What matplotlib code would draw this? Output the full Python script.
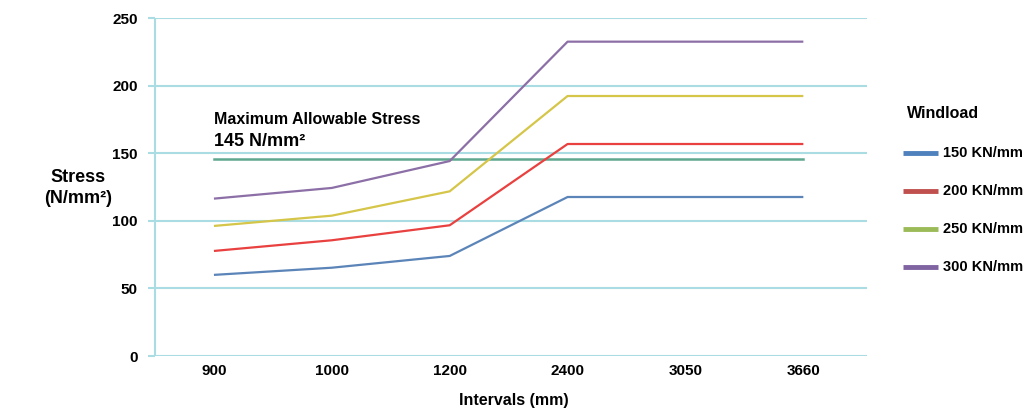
import matplotlib
matplotlib.use("Agg")
import matplotlib.pyplot as plt
from matplotlib.lines import Line2D

plt.rcParams['font.family'] = ['Liberation Sans', 'DejaVu Sans']

categories = ["900", "1000", "1200", "2400", "3050", "3660"]
s150 = [60, 65.3, 74, 117.6, 117.6, 117.6]
s200 = [77.7, 85.6, 96.7, 156.8, 156.8, 156.8]
s250 = [96.2, 103.8, 121.8, 192.3, 192.3, 192.3]
s300 = [116.4, 124.3, 144.2, 232.5, 232.5, 232.5]
max_allowable = 145.5
series_labels = ["150 KN/mm", "200 KN/mm", "250 KN/mm", "300 KN/mm"]
yticks = [0, 50, 100, 150, 200, 250]

line_colors = ["#5B84B8", "#E8413F", "#D5C548", "#8C6FA6"]
legend_colors = ["#4F81BD", "#C0504D", "#9BBB59", "#8064A2"]
grid_color = "#A9DDE3"

W, H = 1024, 412
fig = plt.figure(figsize=(W/100, H/100), dpi=100)
ax = fig.add_axes([155/W, 1-356/H, (867-155)/W, (356-18)/H])

x = list(range(len(categories)))
for ys, c in zip([s150, s200, s250, s300], line_colors):
    ax.plot(x, ys, color=c, lw=1.6, solid_capstyle='butt', zorder=3)
ax.plot([x[0], x[-1]], [max_allowable, max_allowable], color="#5FA88F", lw=1.8, zorder=2)

ax.set_xlim(-0.5, 5.54)
ax.set_ylim(0, 250)
ax.set_yticks(yticks)
ax.set_yticklabels([str(v) for v in yticks], fontsize=11, fontweight='bold')
ax.set_xticks(x)
ax.set_xticklabels(categories, fontsize=11, fontweight='bold')
ax.tick_params(axis='x', length=0, pad=6)
ax.tick_params(axis='y', length=5, width=1.5, color=grid_color, pad=7.5)
ax.yaxis.grid(True, color=grid_color, lw=1.5)
ax.set_axisbelow(True)
for s in ['top', 'right', 'bottom']:
    ax.spines[s].set_visible(False)
ax.spines['left'].set_color(grid_color)
ax.spines['left'].set_linewidth(1.5)
ax.spines['left'].set_capstyle('butt')

ax.text(0, 171.6, "Maximum Allowable Stress", fontsize=11.5, fontweight='bold', ha='left', va='baseline')
ax.text(0, 155.3, "145 N/mm²", fontsize=13, fontweight='bold', ha='left', va='baseline')

fig.text(78/W, 1-188/H, "Stress\n(N/mm²)", fontsize=13, fontweight='bold', ha='center', va='center', linespacing=1.25)
fig.text(514/W, 1-401/H, "Intervals (mm)", fontsize=11.5, fontweight='bold', ha='center', va='center')

# legend
fig.text(907/W, 1-113/H, "Windload", fontsize=11.5, fontweight='bold', ha='left', va='center')
for i, (c, lab) in enumerate(zip(legend_colors, series_labels)):
    yy = 1 - (153 + 38*i)/H
    fig.add_artist(Line2D([903/W, 938/W], [yy, yy], color=c, lw=3.5, solid_capstyle='butt'))
    fig.text(943/W, yy, lab, fontsize=10.5, fontweight='bold', ha='left', va='center')

fig.savefig("out.png", dpi=100)
